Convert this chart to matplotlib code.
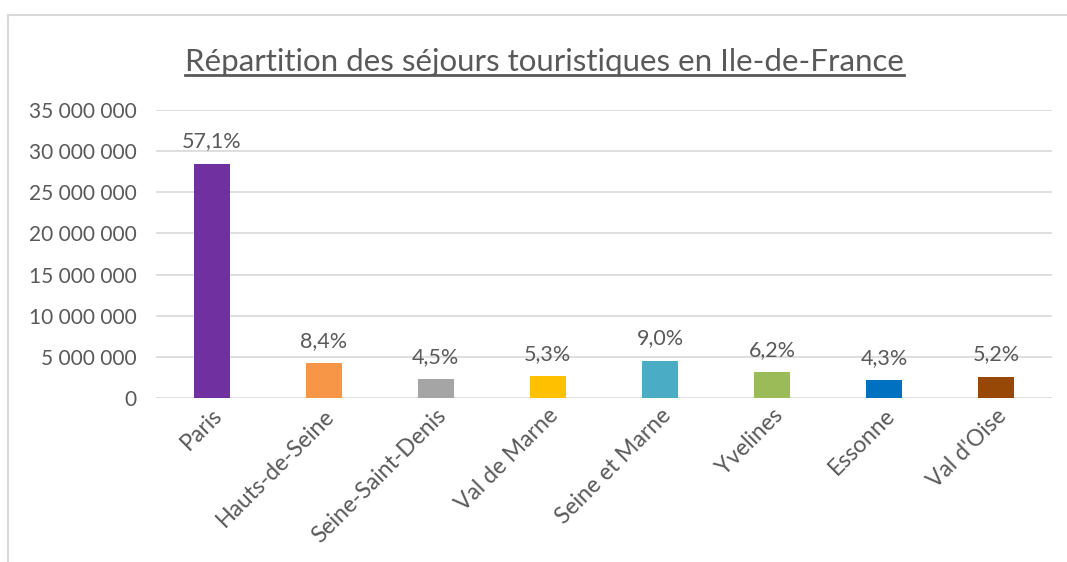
import matplotlib
matplotlib.use("Agg")
from matplotlib import pyplot as plt
from matplotlib.lines import Line2D
from matplotlib.ticker import FuncFormatter, MultipleLocator

plt.rcParams['font.family'] = ['Lato', 'DejaVu Sans']

# data
departements = ["Paris", "Hauts-de-Seine", "Seine-Saint-Denis", "Val de Marne",
                "Seine et Marne", "Yvelines", "Essonne", "Val d'Oise"]
sejours = [28500000, 4200000, 2250000, 2650000, 4500000, 3100000, 2150000, 2600000]
parts = ["57,1%", "8,4%", "4,5%", "5,3%", "9,0%", "6,2%", "4,3%", "5,2%"]
couleurs = ["#7030a0", "#f79646", "#a5a5a5", "#ffc000", "#4bacc6", "#9bbb59", "#0070c0", "#974706"]

grey = "#595959"

fig = plt.figure(figsize=(10.67, 5.62), dpi=100)
ax = fig.add_axes([0.146, 0.292, 0.840, 0.512])

x = range(len(departements))
ax.bar(x, sejours, width=0.32, color=couleurs, zorder=3)
for i, (v, p) in enumerate(zip(sejours, parts)):
    ax.annotate(p, (i, v), xytext=(0, 9), textcoords='offset points',
                ha='center', va='bottom', fontsize=15.5, color=grey)

ax.set_xlim(-0.5, len(departements) - 0.5)
ax.set_ylim(0, 35000000)
ax.yaxis.set_major_locator(MultipleLocator(5000000))
ax.yaxis.set_major_formatter(FuncFormatter(lambda v, pos: f"{int(v):,}".replace(",", " ")))
ax.grid(axis='y', color='#d9d9d9', linewidth=1.2, zorder=0)
for s in ax.spines.values():
    s.set_visible(False)
ax.tick_params(length=0, labelsize=15, labelcolor=grey)
ax.tick_params(axis='y', pad=14)
ax.tick_params(axis='x', pad=5, labelsize=16.5)
ax.set_xticks(list(x))
ax.set_xticklabels(departements, rotation=45, ha='right', rotation_mode='anchor')

# title, underlined
title = fig.text(0.51, 0.89, "Répartition des séjours touristiques en Ile-de-France",
                 ha='center', va='center', fontsize=22.5, color=grey)
fig.canvas.draw()
bb = title.get_window_extent().transformed(fig.transFigure.inverted())
fig.add_artist(Line2D([bb.x0, bb.x1], [bb.y0 + 0.002, bb.y0 + 0.002],
                      color=grey, linewidth=2))

# chart frame (left and top edges visible)
fig.add_artist(Line2D([0.0075, 0.0075], [0.0, 0.973], color='#d9d9d9', linewidth=1.5))
fig.add_artist(Line2D([0.0075, 1.0], [0.973, 0.973], color='#d9d9d9', linewidth=1.5))

fig.savefig("out.png", dpi=100)
